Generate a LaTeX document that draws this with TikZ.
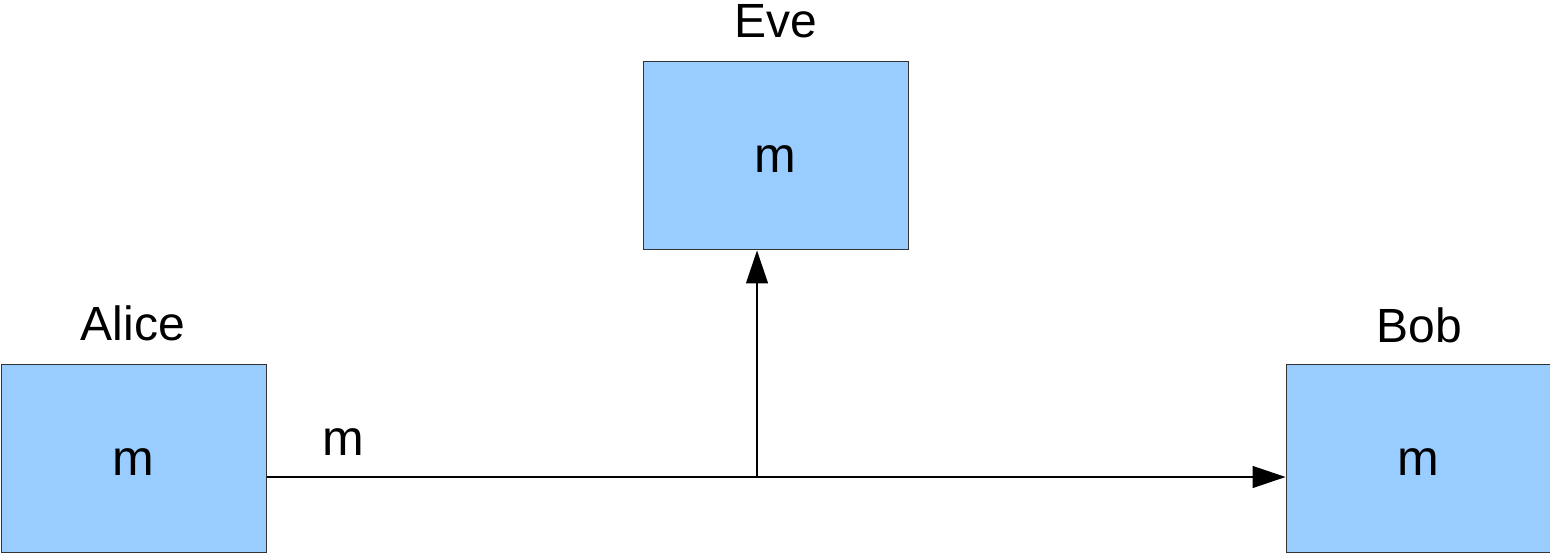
\documentclass[tikz,border=0pt]{standalone}
\usepackage{fontspec}
\setmainfont{Liberation Sans}
\usetikzlibrary{arrows.meta}
\definecolor{boxfill}{RGB}{153,204,255}
\definecolor{boxline}{RGB}{51,51,51}
\tikzset{
  party/.style={draw=boxline, line width=1pt, fill=boxfill, rectangle,
    minimum width=265pt, minimum height=188pt, inner sep=0pt},
  nametext/.style={anchor=base, inner sep=0pt, font=\fontsize{48}{52}\selectfont},
  msgtext/.style={anchor=base, inner sep=0pt, font=\fontsize{50}{54}\selectfont},
  wire/.style={line width=1.3pt, draw=black},
  tip/.style={-{Triangle[length=33pt,width=22pt]}}
}
\begin{document}
\begin{tikzpicture}[x=1pt,y=-1pt]
  \useasboundingbox (0,0) rectangle (1550,553);
  \begin{scope}
    \clip (0,0) rectangle (1550,553);
    % the three parties
    \node[party] (alice) at (133.5,458.5) {};
    \node[party] (eve)   at (775.5,156)   {};
    \node[party] (bob)   at (1418.5,458.5) {};
  \end{scope}
  % message held by each party
  \node[msgtext] (malice) at (133.5,475) {m};
  \node[msgtext] (meve)   at (775.5,173) {m};
  \node[msgtext] (mbob)   at (1418.5,475) {m};
  % names
  \node[nametext] (lalice) at (133,341) {Alice};
  \node[nametext] (leve)   at (776,38)  {Eve};
  \node[nametext] (lbob)   at (1419,342) {Bob};
  % channel with the eavesdropper's tap
  \coordinate (tap) at (757,477);
  \draw[wire,tip] (alice.east |- tap) -- (bob.west |- tap);
  \draw[wire,tip] (tap) -- (eve.south -| tap);
  \node[msgtext] (mline) at (343,455) {m};
\end{tikzpicture}
\end{document}
